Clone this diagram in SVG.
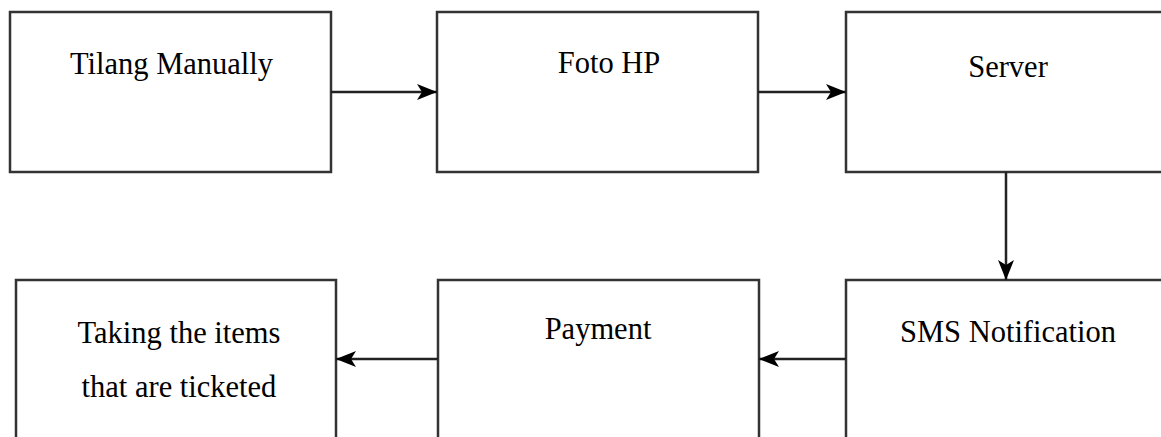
<svg xmlns="http://www.w3.org/2000/svg" width="1161" height="437" viewBox="0 0 1161 437">
<style>
.box{fill:#fff;stroke:#333;stroke-width:2.5}
.lbl{font-family:"Liberation Serif","Times New Roman",serif;font-size:30.5px;fill:#000;text-anchor:middle}
.edge{stroke:#222;stroke-width:2.5;fill:none}
</style>
<defs>
<marker id="ah" viewBox="0 0 20 20" refX="20" refY="10" markerWidth="20" markerHeight="20" markerUnits="userSpaceOnUse" orient="auto">
<path d="M0,2 L20,10 L0,18 L5,10 Z" fill="#000"/>
</marker>
</defs>
<rect width="1161" height="437" fill="#fff"/>
<g id="n1"><rect class="box" x="10" y="12" width="321" height="160"/><text class="lbl" x="171.5" y="74">Tilang Manually</text></g>
<g id="n2"><rect class="box" x="437" y="12" width="321" height="160"/><text class="lbl" x="609" y="73">Foto HP</text></g>
<g id="n3"><rect class="box" x="846" y="12" width="330" height="160"/><text class="lbl" x="1008" y="77">Server</text></g>
<g id="n4"><rect class="box" x="16" y="280" width="320" height="170"/><text class="lbl" x="179" y="343">Taking the items</text><text class="lbl" x="179" y="397">that are ticketed</text></g>
<g id="n5"><rect class="box" x="438" y="280" width="321" height="170"/><text class="lbl" x="598" y="339">Payment</text></g>
<g id="n6"><rect class="box" x="846" y="280" width="330" height="170"/><text class="lbl" x="1008" y="342">SMS Notification</text></g>
<g id="connectors">
<line class="edge" x1="331" y1="92" x2="437" y2="92" marker-end="url(#ah)"/>
<line class="edge" x1="758" y1="92" x2="846" y2="92" marker-end="url(#ah)"/>
<line class="edge" x1="1006" y1="172" x2="1006" y2="280" marker-end="url(#ah)"/>
<line class="edge" x1="846" y1="359" x2="759" y2="359" marker-end="url(#ah)"/>
<line class="edge" x1="438" y1="359" x2="336" y2="359" marker-end="url(#ah)"/>
</g>
</svg>
